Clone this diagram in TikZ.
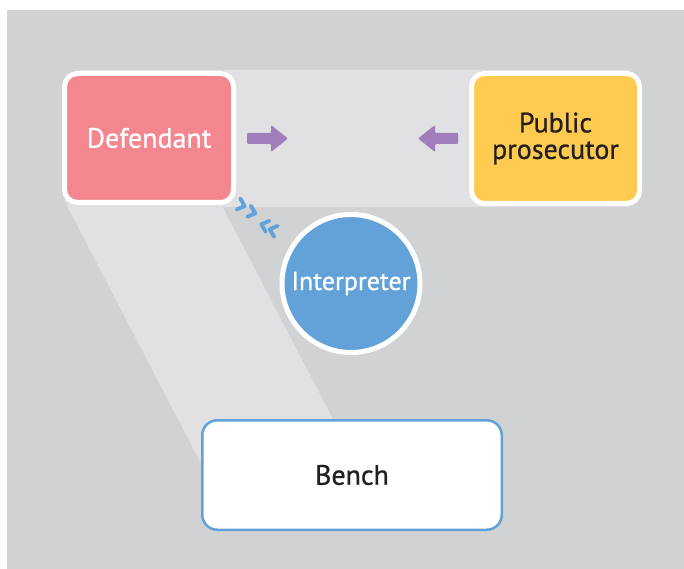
\documentclass[tikz,border=0pt]{standalone}
\usepackage{fontspec}
\setmainfont{PT Sans}
\newfontfamily\labelfont{PT Sans}[FakeBold=0.8]

\definecolor{bggray}{RGB}{209,210,212}
\definecolor{bandgray}{RGB}{225,225,227}
\definecolor{defpink}{RGB}{243,134,142}
\definecolor{prosyellow}{RGB}{254,203,80}
\definecolor{interblue}{RGB}{98,162,216}
\definecolor{arrowpurple}{RGB}{160,126,188}
\definecolor{inkdark}{RGB}{35,31,32}

\tikzset{
  party/.style={draw=white, line width=5pt, rounded corners=13pt,
    inner sep=0pt, align=center, font=\labelfont\fontsize{28}{26.5}\selectfont},
  interp/.style={circle, draw=white, line width=5pt, fill=interblue,
    minimum size=138pt, inner sep=0pt, text=white,
    font=\labelfont\fontsize{26}{28}\selectfont},
  benchbox/.style={draw=interblue, line width=2.5pt, fill=white,
    rounded corners=15pt, minimum width=299.5pt, minimum height=109.5pt,
    inner sep=0pt, text=inkdark, font=\labelfont\fontsize{28}{30}\selectfont},
  flowarrow/.style={fill=arrowpurple, rounded corners=1pt},
  chev/.style={draw=interblue, line width=3.8pt, line cap=round, line join=round},
}

\begin{document}
\begin{tikzpicture}[x=1pt, y=-1pt]
  \useasboundingbox (0,0) rectangle (684,569);

  % backdrop and light bands
  \fill[bggray] (7,10) rectangle (684,569);
  \fill[bandgray] (80,70) rectangle (630,207);
  \fill[bandgray] (64,200) -- (219,200) -- (359.4,470) -- (204.4,470) -- cycle;

  % parties
  \node[party, fill=defpink, text=white, minimum width=169pt, minimum height=129pt]
    (defendant) at (149,138) {Defendant};
  \node[party, fill=prosyellow, text=inkdark, minimum width=168pt, minimum height=130pt]
    (prosecutor) at (555.5,138.5) {Public\\prosecutor};
  \node[interp] (interpreter) at (351,283.5) {Interpreter};
  \node[benchbox] (bench) at (352,475) {Bench};

  % purple arrows pointing into the space between the parties
  \fill[flowarrow] (247,133) -- (271,133) -- (271,125) -- (288,138.5)
    -- (271,152) -- (271,144) -- (247,144) -- cycle;
  \fill[flowarrow] (458,133) -- (435,133) -- (435,125) -- (418,138.5)
    -- (435,152) -- (435,144) -- (458,144) -- cycle;

  % chevrons between defendant and interpreter
  \foreach \p in {(244.7,206),(255.3,213.3)}
    \draw[chev, shift={\p}, rotate=-18] (-6.6,-5.8) -- (0,0) -- (-6.6,5.8);
  \foreach \p in {(261.3,224.3),(269.7,229.3)}
    \draw[chev, shift={\p}, rotate=-18] (6.6,-5.8) -- (0,0) -- (6.6,5.8);
\end{tikzpicture}
\end{document}
